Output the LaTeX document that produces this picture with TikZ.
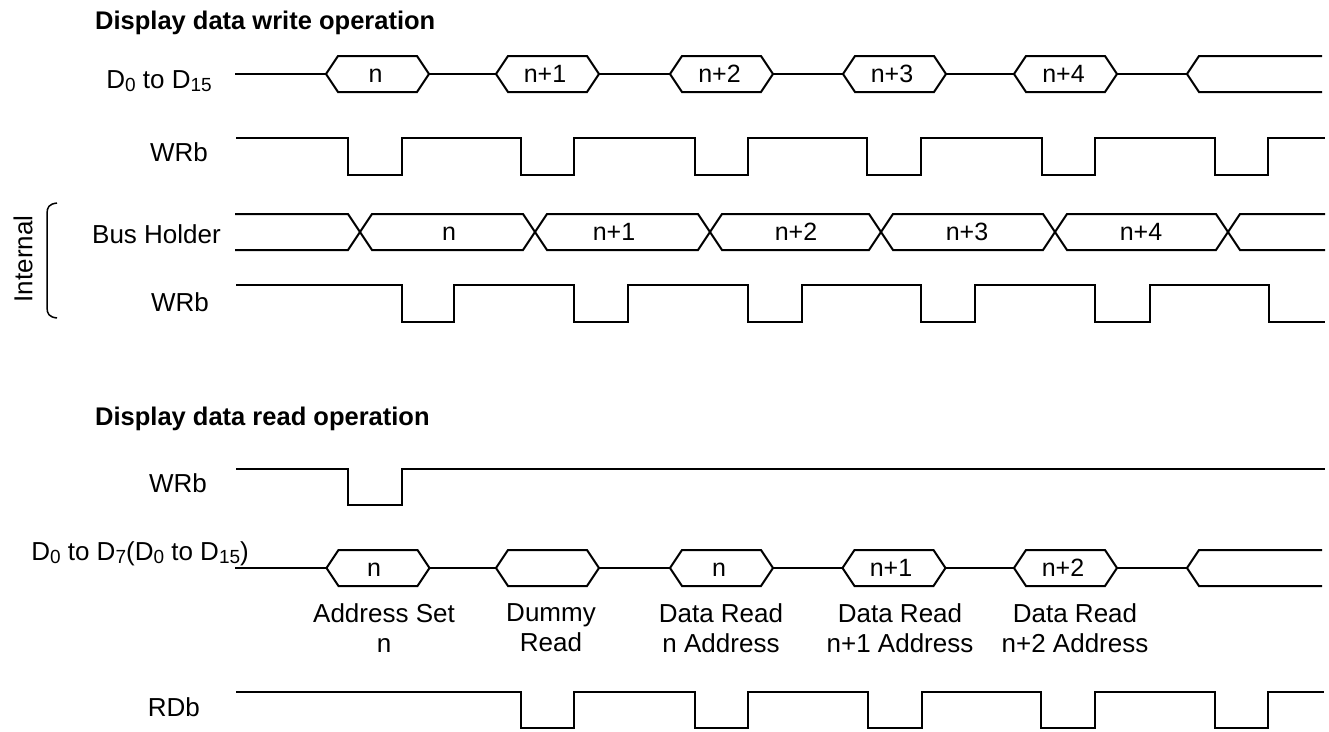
\documentclass[tikz,border=0pt]{standalone}
\usepackage{fontspec}
\setmainfont{Liberation Sans}
\newcommand\sbs[1]{\raisebox{-3.5pt}{\fontsize{19}{19}\selectfont #1}}
\begin{document}
\begin{tikzpicture}[x=1pt,y=-1pt,
  sig/.style={line width=2pt, line join=miter, line cap=butt},
  lbl/.style={font=\fontsize{26}{30}\selectfont, inner sep=0pt, anchor=base east},
  vlbl/.style={font=\fontsize{25}{30}\selectfont, inner sep=0pt, anchor=base},
  note/.style={font=\fontsize{26}{30}\selectfont, inner sep=0pt, anchor=north, align=center},
  ttl/.style={font=\bfseries\fontsize{25.5}{30}\selectfont, inner sep=0pt, anchor=base west}]
\useasboundingbox (0,0) rectangle (1329,731);

% titles
\node[ttl] (t1) at (95,29.5) {Display data write operation};
\node[ttl] (t2) at (95,425) {Display data read operation};

% signal labels
\node[lbl] (ld) at (212,88) {D\sbs{0} to D\sbs{15}};
\node[lbl] (lw) at (208,161) {WRb};
\node[lbl] (lbh) at (221,243) {Bus Holder};
\node[lbl] (lwi) at (209,311) {WRb};
\node[lbl] (lwr) at (207,492) {WRb};
\node[lbl] (ldr) at (249,560) {D\sbs{0} to D\sbs{7}(D\sbs{0} to D\sbs{15})};
\node[lbl] (lrd) at (200,716) {RDb};

% internal bracket
\draw[line width=1.5pt] (57,203) .. controls (49,204) and (47,207) .. (47,214) -- (47,307) .. controls (47,314) and (49,317) .. (57,318);
\node[font=\fontsize{26}{30}\selectfont, rotate=90, inner sep=0pt] (intl) at (23,259) {Internal};

% ---- write: data bus
\draw[sig] (235,74) -- (326,74);
\foreach \L/\nx in {326/496, 496/670, 670/843, 843/1014, 1014/1187} {
  \draw[sig] (\L,74) -- ++(12,-18) -- ++(79,0) -- ++(12,18) -- ++(-12,18) -- ++(-79,0) -- cycle;
  \draw[sig] (\L+103,74) -- (\nx,74);
}
\draw[sig] (1322,56) -- (1199,56) -- (1187,74) -- (1199,92) -- (1322,92);
\foreach \cx/\t [count=\i] in {375.5/n, 545/n+1, 719.5/n+2, 892/n+3, 1063.5/n+4}
  \node[vlbl] (w\i) at (\cx,82) {\t};

% ---- write: WRb
\draw[sig] (236,138) -- (348,138) -- (348,175) -- (402,175) -- (402,138) -- (521,138) -- (521,175) -- (574,175) -- (574,138) -- (695,138) -- (695,175) -- (748,175) -- (748,138) -- (867,138) -- (867,175) -- (921,175) -- (921,138) -- (1042,138) -- (1042,175) -- (1095,175) -- (1095,138) -- (1215,138) -- (1215,175) -- (1268,175) -- (1268,138) -- (1325,138);

% ---- internal: bus holder
\draw[sig] (235,214) -- (348,214) -- (372,250) -- (523,250) -- (547,214) -- (698,214) -- (722,250) -- (869,250) -- (893,214) -- (1043,214) -- (1067,250) -- (1216,250) -- (1240,214) -- (1325,214);
\draw[sig] (235,250) -- (348,250) -- (372,214) -- (523,214) -- (547,250) -- (698,250) -- (722,214) -- (869,214) -- (893,250) -- (1043,250) -- (1067,214) -- (1216,214) -- (1240,250) -- (1325,250);
\foreach \cx/\t [count=\i] in {449/n, 614/n+1, 796/n+2, 967/n+3, 1141/n+4}
  \node[vlbl] (b\i) at (\cx,240) {\t};

% ---- internal: WRb
\draw[sig] (236,285) -- (402,285) -- (402,322) -- (454,322) -- (454,285) -- (574,285) -- (574,322) -- (628,322) -- (628,285) -- (748,285) -- (748,322) -- (802,322) -- (802,285) -- (921,285) -- (921,322) -- (975,322) -- (975,285) -- (1095,285) -- (1095,322) -- (1150,322) -- (1150,285) -- (1269,285) -- (1269,322) -- (1325,322);

% ---- read: WRb
\draw[sig] (236,469) -- (348,469) -- (348,505) -- (402,505) -- (402,469) -- (1325,469);

% ---- read: data bus
\draw[sig] (235,568) -- (326.5,568);
\foreach \L/\nx in {326.5/496, 496/670, 670/842.5, 842.5/1014, 1014/1187} {
  \draw[sig] (\L,568) -- ++(12,-18) -- ++(79,0) -- ++(12,18) -- ++(-12,18) -- ++(-79,0) -- cycle;
  \draw[sig] (\L+103,568) -- (\nx,568);
}
\draw[sig] (1322,550) -- (1199,550) -- (1187,568) -- (1199,586) -- (1322,586);
\node[vlbl] (r1) at (374,576) {n};
\node[vlbl] (r3) at (719,576) {n};
\node[vlbl] (r4) at (891,576) {n+1};
\node[vlbl] (r5) at (1063,576) {n+2};

% notes
\node[note] (a1) at (384,603) {Address Set\\n};
\node[note] (a2) at (551,603) {Dummy\\Read};
\node[note] (a3) at (721,603) {Data Read\\n Address};
\node[note] (a4) at (900,603) {Data Read\\n+1 Address};
\node[note] (a5) at (1075,603) {Data Read\\n+2 Address};

% ---- read: RDb
\draw[sig] (236,692) -- (521,692) -- (521,728) -- (574,728) -- (574,692) -- (695,692) -- (695,728) -- (748,728) -- (748,692) -- (868,692) -- (868,728) -- (922,728) -- (922,692) -- (1041,692) -- (1041,728) -- (1095,728) -- (1095,692) -- (1215,692) -- (1215,728) -- (1268,728) -- (1268,692) -- (1324,692);
\end{tikzpicture}
\end{document}
